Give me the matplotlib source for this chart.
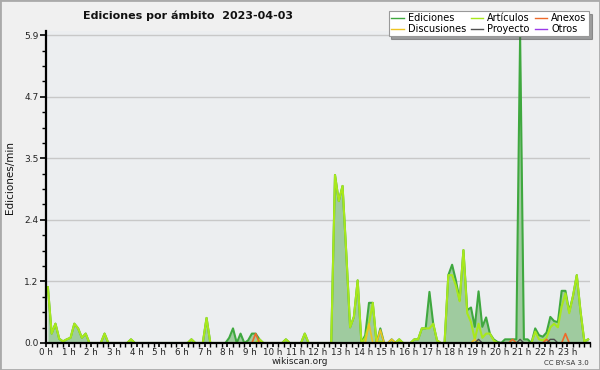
#Imports
import numpy as np
import matplotlib
matplotlib.use("Agg")
from matplotlib import pyplot as plt
from matplotlib.patches import Rectangle

#Datos (ediciones/min, bloques de 10 min, 2 horas por fila)
ediciones = [
    1.07, 0.18, 0.37, 0.08, 0.03, 0.07, 0.10, 0.37, 0.28, 0.10, 0.18, 0.00,
    0.00, 0.00, 0.00, 0.18, 0.00, 0.00, 0.00, 0.00, 0.00, 0.00, 0.07, 0.00,
    0.00, 0.00, 0.00, 0.00, 0.00, 0.00, 0.00, 0.00, 0.00, 0.00, 0.00, 0.00,
    0.00, 0.00, 0.07, 0.00, 0.00, 0.00, 0.48, 0.00, 0.00, 0.00, 0.00, 0.00,
    0.10, 0.28, 0.00, 0.18, 0.00, 0.05, 0.18, 0.18, 0.07, 0.00, 0.00, 0.00,
    0.00, 0.00, 0.00, 0.07, 0.00, 0.00, 0.00, 0.00, 0.18, 0.00, 0.00, 0.00,
    0.00, 0.00, 0.00, 0.00, 3.22, 2.72, 3.01, 1.70, 0.30, 0.50, 1.20, 0.00,
    0.15, 0.77, 0.77, 0.00, 0.28, 0.00, 0.00, 0.07, 0.00, 0.07, 0.00, 0.00,
    0.00, 0.07, 0.07, 0.28, 0.28, 0.98, 0.37, 0.05, 0.00, 0.00, 1.30, 1.50,
    1.20, 0.82, 1.78, 0.63, 0.68, 0.31, 0.99, 0.31, 0.49, 0.18, 0.07, 0.02,
    0.00, 0.07, 0.07, 0.07, 0.07, 5.90, 0.07, 0.07, 0.00, 0.28, 0.15, 0.12,
    0.20, 0.50, 0.42, 0.40, 1.00, 1.00, 0.60, 0.90, 1.30, 0.60, 0.03, 0.07,
]
articulos = [
    1.07, 0.18, 0.37, 0.08, 0.03, 0.07, 0.10, 0.37, 0.28, 0.10, 0.18, 0.00,
    0.00, 0.00, 0.00, 0.18, 0.00, 0.00, 0.00, 0.00, 0.00, 0.00, 0.07, 0.00,
    0.00, 0.00, 0.00, 0.00, 0.00, 0.00, 0.00, 0.00, 0.00, 0.00, 0.00, 0.00,
    0.00, 0.00, 0.07, 0.00, 0.00, 0.00, 0.48, 0.00, 0.00, 0.00, 0.00, 0.00,
    0.00, 0.00, 0.00, 0.00, 0.00, 0.00, 0.00, 0.00, 0.07, 0.00, 0.00, 0.00,
    0.00, 0.00, 0.00, 0.07, 0.00, 0.00, 0.00, 0.00, 0.18, 0.00, 0.00, 0.00,
    0.00, 0.00, 0.00, 0.00, 3.22, 2.72, 3.01, 1.70, 0.30, 0.50, 1.20, 0.00,
    0.10, 0.37, 0.77, 0.00, 0.03, 0.00, 0.00, 0.00, 0.00, 0.07, 0.00, 0.00,
    0.00, 0.07, 0.07, 0.28, 0.28, 0.28, 0.37, 0.05, 0.00, 0.00, 1.30, 1.30,
    1.10, 0.80, 1.78, 0.57, 0.40, 0.07, 0.37, 0.10, 0.18, 0.18, 0.05, 0.00,
    0.00, 0.00, 0.00, 0.00, 0.00, 0.00, 0.00, 0.00, 0.00, 0.22, 0.07, 0.05,
    0.10, 0.30, 0.37, 0.30, 0.70, 0.95, 0.57, 0.90, 1.30, 0.60, 0.03, 0.07,
]
# series pequenas: (bloque, valor)
discusiones = {85: 0.37, 88: 0.25, 91: 0.07, 113: 0.07}
anexos = {55: 0.18, 123: 0.07, 132: 0.07, 137: 0.18}
proyecto = {114: 0.07, 125: 0.07, 133: 0.07, 134: 0.07}
otros = {}

horas = [str(h) + " h" for h in range(24)]
fecha = "2023-04-03"


def serie(d):                       # dict -> lista completa de 144
    y = np.zeros(144)
    for k, v in d.items():
        y[k] = v
    return y


t = (np.arange(144) + 0.5) / 6.0     # centro de cada bloque en horas
maximo = max(ediciones)

fig = plt.figure(figsize=(6, 3.7), dpi=100, facecolor="#f0f0f0")
fig.patches.append(Rectangle((0, 0), 1, 1, transform=fig.transFigure,
                             fill=False, edgecolor="#aaaaaa", linewidth=2))
axe = fig.add_axes([46/600, 27/370, 544/600, 312/370])
axe.set_facecolor("#eceef0")

#Gráfica
axe.fill_between(t, ediciones, color="#9fcb9f", linewidth=0, zorder=1.5)
l_ed, = axe.plot(t, ediciones, color="#3fa83f", lw=1.5, label="Ediciones", zorder=2)
l_ar, = axe.plot(t, articulos, color="#a8e81c", lw=1.5, label="Artículos", zorder=2.1)
l_di, = axe.plot(t, serie(discusiones), color="#eec422", lw=1.2, label="Discusiones", zorder=2.2)
l_an, = axe.plot(t, serie(anexos), color="#ee6a2a", lw=1.2, label="Anexos", zorder=2.2)
l_pr, = axe.plot(t, serie(proyecto), color="#505050", lw=1.0, label="Proyecto", zorder=2.2)
l_ot, = axe.plot(t, serie(otros), color="#9a3ae8", lw=1.0, label="Otros", zorder=2.05)

axe.set_xlim(0, 24)
axe.set_ylim(0, 5.98)

yt = [maximo * i / 5 for i in range(6)]
axe.set_yticks(yt)
axe.set_yticklabels(["%.1f" % v for v in yt])
axe.set_yticks([maximo * i / 20 for i in range(21)], minor=True)
axe.set_xticks(range(24))
axe.set_xticklabels(horas)
axe.set_xticks(np.arange(0, 24.01, 0.25), minor=True)
axe.tick_params(axis="y", which="major", labelsize=6.5, length=4, width=1.2,
                color="black", pad=1.5, labelcolor="#222222")
axe.tick_params(axis="x", which="major", labelsize=6.3, length=3, width=1.2,
                color="black", pad=0.3, labelcolor="#222222")
axe.tick_params(axis="both", which="minor", length=3, width=1.0, color="black")

axe.grid(axis="y", color="#c8c8c8", linewidth=1.0)
axe.set_axisbelow(True)
for s in ["top", "right"]:
    axe.spines[s].set_visible(False)
for s in ["left", "bottom"]:
    axe.spines[s].set_linewidth(1.6)
    axe.spines[s].set_zorder(3)

fig.text(188/600, 1 - 16/370, "Ediciones por ámbito  " + fecha, fontsize=8,
         fontweight="bold", ha="center", va="center", color="#111111")
fig.text(10/600, 0.52, "Ediciones/min", rotation=90, fontsize=7.5,
         ha="center", va="center", color="#111111")
fig.text(300/600, 1 - 362/370, "wikiscan.org", fontsize=6.5, ha="center",
         va="center", color="#222222")
fig.text(589/600, 1 - 363/370, "CC BY-SA 3.0", fontsize=5, ha="right",
         va="center", color="#333333")

leg = fig.legend([l_ed, l_di, l_ar, l_pr, l_an, l_ot],
                 ["Ediciones", "Discusiones", "Artículos", "Proyecto", "Anexos", "Otros"],
                 ncol=3, loc="upper right", bbox_to_anchor=(589/600, 1 - 11/370),
                 fontsize=7, frameon=True, fancybox=False, shadow=True,
                 handlelength=1.3, handletextpad=0.4, columnspacing=0.5,
                 labelspacing=0.05, borderpad=0.25, borderaxespad=0)
leg.get_frame().set_edgecolor("#999999")
leg.get_frame().set_linewidth(0.8)
for ln in leg.get_lines():
    ln.set_linewidth(1.0)

plt.savefig("out.png", dpi=100, facecolor=fig.get_facecolor())
